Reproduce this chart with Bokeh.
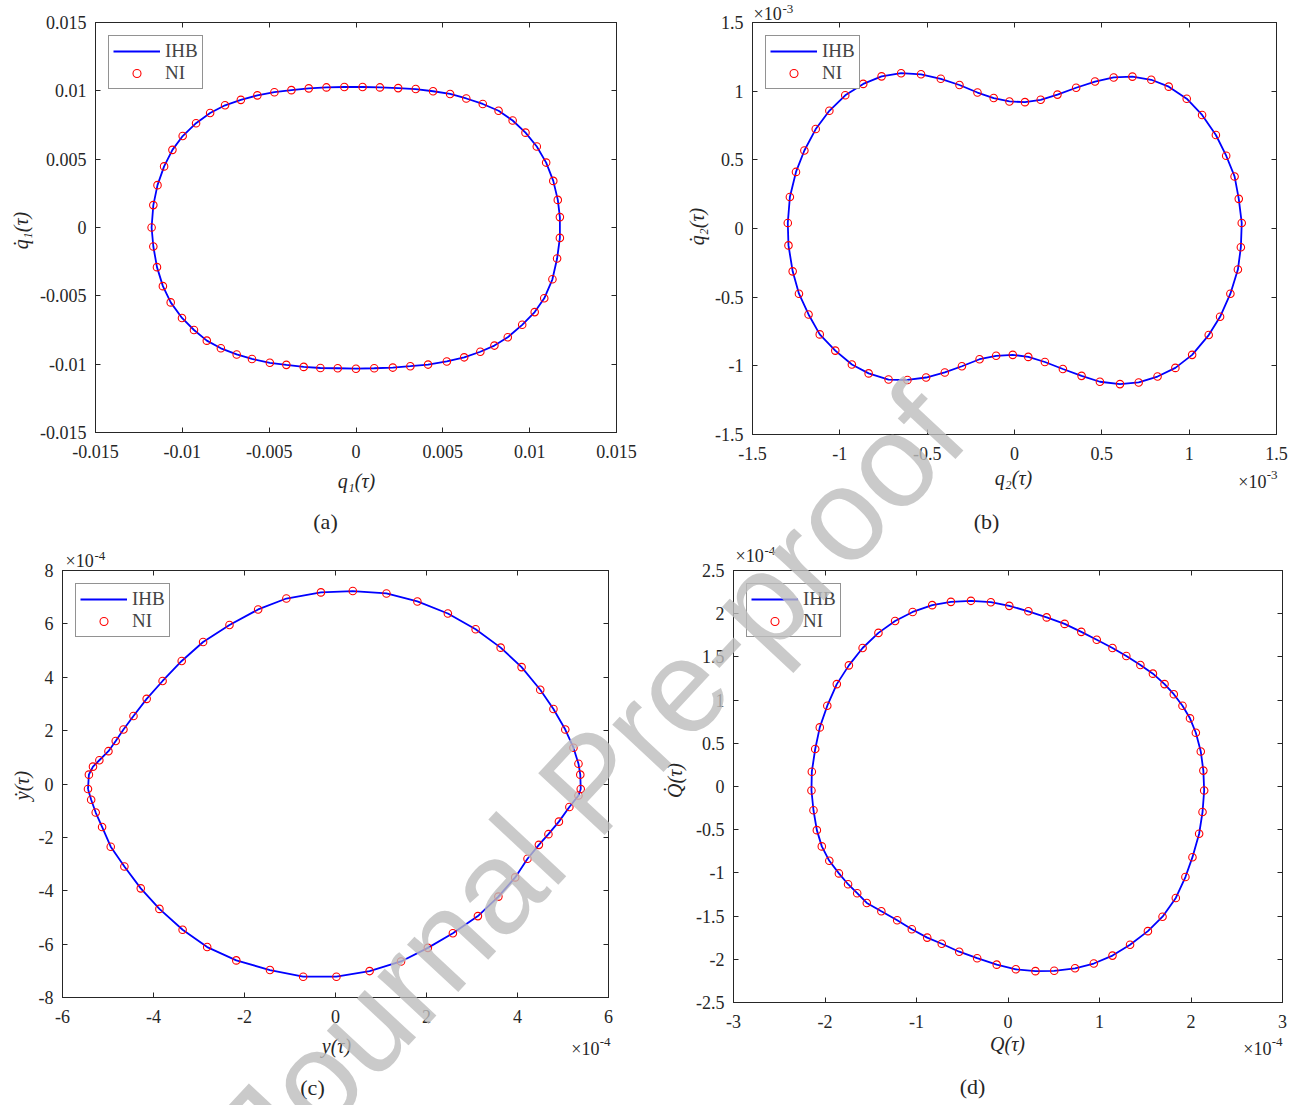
import math
from bokeh.plotting import figure
from bokeh.models import (Range1d, FixedTicker, LinearAxis, Label, Legend, LegendItem,
                          CustomJSTickFormatter)
from bokeh.layouts import row, column
from bokeh.embed import file_html
from bokeh.resources import INLINE

# ---------------- data ----------------
# (a) q1 vs dq1
q1 = [-0.01177, -0.01167, -0.01143, -0.01105, -0.01057, -0.00998, -0.00921, -0.0084, -0.00754,
      -0.00663, -0.00568, -0.0047, -0.00372, -0.00272, -0.0017, -0.00067, 0.00038, 0.00138,
      0.00243, 0.00344, 0.00444, 0.00542, 0.00635, 0.0073, 0.00821, 0.00902, 0.00976, 0.01041,
      0.01095, 0.01136, 0.01162, 0.01174, 0.01174, 0.01158, 0.01131, 0.01084, 0.01029, 0.00957,
      0.00874, 0.00797, 0.00716, 0.00623, 0.00523, 0.00415, 0.00313, 0.00212, 0.00105, 0.0,
      -0.00105, -0.00205, -0.00301, -0.00401, -0.00496, -0.00599, -0.00687, -0.00778, -0.00859,
      -0.00933, -0.01002, -0.01067, -0.01112, -0.01146, -0.01167]
dq1 = [0.0, 0.00164, 0.0031, 0.00447, 0.00568, 0.00669, 0.00763, 0.00838, 0.00894, 0.00934,
       0.00967, 0.0099, 0.01005, 0.01018, 0.01025, 0.01028, 0.01028, 0.01025, 0.0102, 0.01013,
       0.00997, 0.00977, 0.00944, 0.00904, 0.00854, 0.00783, 0.00694, 0.00593, 0.00475, 0.00341,
       0.00202, 0.00076, -0.00076, -0.00227, -0.00379, -0.00518, -0.00619, -0.00712, -0.00803,
       -0.00864, -0.00909, -0.0095, -0.0098, -0.01003, -0.01015, -0.01025, -0.0103, -0.01033,
       -0.0103, -0.01028, -0.0102, -0.01005, -0.0099, -0.00962, -0.00929, -0.00884, -0.00828,
       -0.0075, -0.00662, -0.00548, -0.00429, -0.0029, -0.00139]

# (b) q2 vs dq2, in units of 1e-3
q2_e3 = [-1.298, -1.286, -1.251, -1.203, -1.138, -1.06, -0.969, -0.866, -0.761, -0.649, -0.535,
         -0.422, -0.315, -0.212, -0.119, -0.029, 0.06, 0.15, 0.246, 0.353, 0.461, 0.568, 0.675,
         0.783, 0.883, 0.986, 1.074, 1.153, 1.212, 1.26, 1.284, 1.301, 1.296, 1.279, 1.236, 1.177,
         1.112, 1.017, 0.921, 0.819, 0.711, 0.604, 0.489, 0.384, 0.277, 0.174, 0.079, -0.01,
         -0.105, -0.2, -0.301, -0.399, -0.506, -0.613, -0.721, -0.835, -0.931, -1.026, -1.115,
         -1.179, -1.234, -1.27, -1.294]
dq2_e3 = [0.04, 0.229, 0.412, 0.568, 0.724, 0.857, 0.97, 1.053, 1.108, 1.131, 1.123, 1.09, 1.045,
          0.99, 0.95, 0.925, 0.92, 0.937, 0.975, 1.025, 1.07, 1.1, 1.106, 1.083, 1.033, 0.945,
          0.827, 0.681, 0.53, 0.379, 0.216, 0.04, -0.136, -0.299, -0.475, -0.643, -0.776, -0.92,
          -1.015, -1.078, -1.121, -1.133, -1.116, -1.073, -1.023, -0.972, -0.935, -0.92, -0.927,
          -0.952, -1.003, -1.048, -1.085, -1.103, -1.1, -1.055, -0.99, -0.889, -0.771, -0.626,
          -0.475, -0.312, -0.123]

# (c) y vs dy, in units of 1e-4
y_e4 = [-5.44, -5.42, -5.33, -5.19, -4.99, -4.83, -4.66, -4.44, -4.15, -3.8, -3.38, -2.91, -2.33,
        -1.7, -1.08, -0.32, 0.38, 1.12, 1.8, 2.47, 3.08, 3.63, 4.09, 4.5, 4.79, 5.05, 5.23, 5.34,
        5.38, 5.39, 5.34, 5.14, 4.91, 4.68, 4.47, 4.22, 3.95, 3.58, 3.13, 2.58, 2.03, 1.44, 0.75,
        0.02, -0.71, -1.44, -2.18, -2.82, -3.36, -3.87, -4.28, -4.64, -4.94, -5.13, -5.27, -5.37]
dy_e4 = [-0.19, 0.35, 0.65, 0.89, 1.23, 1.61, 2.04, 2.55, 3.19, 3.86, 4.61, 5.32, 5.96, 6.54,
         6.95, 7.18, 7.23, 7.14, 6.84, 6.39, 5.8, 5.11, 4.38, 3.53, 2.81, 2.04, 1.36, 0.76, 0.35,
         -0.19, -0.43, -0.86, -1.41, -1.88, -2.28, -2.8, -3.5, -4.22, -4.95, -5.59, -6.14, -6.65,
         -7.01, -7.22, -7.22, -6.97, -6.61, -6.11, -5.46, -4.68, -3.91, -3.09, -2.35, -1.61,
         -1.07, -0.59]

# (d) Q vs dQ, in units of 1e-4
Q_e4 = [-2.148, -2.144, -2.107, -2.057, -1.975, -1.871, -1.739, -1.589, -1.416, -1.234, -1.042,
        -0.828, -0.624, -0.405, -0.187, 0.014, 0.223, 0.423, 0.619, 0.801, 0.97, 1.142, 1.293,
        1.447, 1.584, 1.711, 1.812, 1.907, 1.989, 2.053, 2.107, 2.135, 2.144, 2.126, 2.089, 2.016,
        1.939, 1.834, 1.689, 1.529, 1.334, 1.142, 0.938, 0.733, 0.505, 0.3, 0.086, -0.123,
        -0.337, -0.533, -0.724, -0.883, -1.051, -1.211, -1.384, -1.543, -1.648, -1.748, -1.848,
        -1.953, -2.035, -2.089, -2.126]
dQ_e4 = [-0.046, 0.171, 0.434, 0.684, 0.935, 1.185, 1.402, 1.603, 1.778, 1.916, 2.02, 2.099,
         2.137, 2.149, 2.133, 2.091, 2.028, 1.957, 1.882, 1.79, 1.699, 1.603, 1.511, 1.407, 1.306,
         1.185, 1.068, 0.935, 0.789, 0.622, 0.405, 0.184, -0.046, -0.296, -0.547, -0.818, -1.048,
         -1.29, -1.507, -1.674, -1.832, -1.957, -2.049, -2.104, -2.133, -2.137, -2.116, -2.062,
         -1.987, -1.912, -1.82, -1.749, -1.653, -1.548, -1.444, -1.348, -1.235, -1.131, -1.006,
         -0.86, -0.693, -0.505, -0.275]

# tick values
ticks_a = [-0.015, -0.01, -0.005, 0, 0.005, 0.01, 0.015]
ticks_b = [-1.5, -1, -0.5, 0, 0.5, 1, 1.5]
ticks_c_x = [-6, -4, -2, 0, 2, 4, 6]
ticks_c_y = [-8, -6, -4, -2, 0, 2, 4, 6, 8]
ticks_d_x = [-3, -2, -1, 0, 1, 2, 3]
ticks_d_y = [-2.5, -2, -1.5, -1, -0.5, 0, 0.5, 1, 1.5, 2, 2.5]

legend_labels = ["IHB", "NI"]
axis_labels = {
    "a": ("q\u2081(\u03c4)", "q\u0307\u2081(\u03c4)"),
    "b": ("q\u2082(\u03c4)", "q\u0307\u2082(\u03c4)"),
    "c": ("y(\u03c4)", "y\u0307(\u03c4)"),
    "d": ("Q(\u03c4)", "Q\u0307(\u03c4)"),
}
captions = {"a": "(a)", "b": "(b)", "c": "(c)", "d": "(d)"}
exponents = {"b": "-3", "c": "-4", "d": "-4"}
WM_TEXT = "Journal Pre-proof"

# ---------------- styling ----------------
AX = "#262626"
SERIF = "Liberation Serif"
TICK_FS = "18px"
PAGE_W, PAGE_H = 1304, 1105


def fmt():
    return CustomJSTickFormatter(code="return String(parseFloat(tick.toFixed(4)));")


def blank():
    return CustomJSTickFormatter(code="return '';")


def make_panel(fig_box, frame, xr, yr, xt, yt, xs, ys):
    x0, y0, x1, y1 = fig_box
    fl, ft, fr, fb = frame
    p = figure(frame_width=fr - fl, frame_height=fb - ft,
               min_border_left=fl - x0, min_border_right=x1 - fr,
               min_border_top=ft - y0, min_border_bottom=y1 - fb,
               x_range=Range1d(*xr), y_range=Range1d(*yr),
               output_backend="svg", toolbar_location=None,
               x_axis_location=None, y_axis_location=None)
    p.grid.visible = False
    p.outline_line_color = AX
    p.outline_line_width = 1
    p.background_fill_color = "white"
    p.border_fill_color = "white"

    for side, ticks in (("below", xt), ("left", yt), ("above", xt), ("right", yt)):
        labelled = side in ("below", "left")
        ax = LinearAxis(ticker=FixedTicker(ticks=ticks),
                        formatter=fmt() if labelled else blank(),
                        major_tick_in=5, major_tick_out=0,
                        minor_tick_line_color=None,
                        axis_line_color=AX, major_tick_line_color=AX,
                        major_label_text_font=SERIF,
                        major_label_text_color=AX,
                        major_label_text_font_size=TICK_FS if labelled else "1px",
                        major_label_standoff=(9 if side == "left" else 12) if labelled else 0)
        p.add_layout(ax, side)

    xx = list(xs) + [xs[0]]
    yy = list(ys) + [ys[0]]
    ln = p.line(xx, yy, line_color="#0000ff", line_width=1.8)
    sc = p.scatter(xs, ys, marker="circle", size=7.5, fill_color=None,
                   line_color="#ff0000", line_width=1.1)
    leg = Legend(items=[LegendItem(label=legend_labels[0], renderers=[ln]),
                        LegendItem(label=legend_labels[1], renderers=[sc])],
                 location="top_left", margin=13, padding=4, spacing=0,
                 glyph_width=47, glyph_height=20, label_standoff=5, label_height=20,
                 label_text_font=SERIF, label_text_font_size="19px",
                 border_line_color=AX, border_line_width=1,
                 background_fill_color="white", background_fill_alpha=1)
    p.add_layout(leg, "center")
    return p


pA = make_panel((0, 0, 650, 545), (95, 22, 616, 432), (-0.015, 0.015), (-0.015, 0.015),
                ticks_a, ticks_a, q1, dq1)
pB = make_panel((650, 0, 1304, 545), (752, 20, 1276, 432), (-1.5, 1.5), (-1.5, 1.5),
                ticks_b, ticks_b, q2_e3, dq2_e3)
pC = make_panel((0, 545, 650, 1105), (62, 570, 608, 997), (-6, 6), (-8, 8),
                ticks_c_x, ticks_c_y, y_e4, dy_e4)
pD = make_panel((650, 545, 1304, 1105), (733, 565, 1282, 997), (-3, 3), (-2.5, 2.5),
                ticks_d_x, ticks_d_y, Q_e4, dQ_e4)

# ---------------- transparent overlay for the texts outside the axes ----------------
ov = figure(width=PAGE_W, height=PAGE_H, x_range=Range1d(0, PAGE_W), y_range=Range1d(0, PAGE_H),
            min_border=0, min_border_left=0, min_border_right=0, min_border_top=0,
            min_border_bottom=0, toolbar_location=None, output_backend="svg",
            x_axis_location=None, y_axis_location=None,
            background_fill_color=None, border_fill_color=None, outline_line_color=None,
            styles={"position": "absolute", "left": "0px", "top": "0px",
                    "pointer-events": "none", "z-index": "10"})
ov.grid.visible = False


def t(px, py, text, size, align="center", baseline="middle", angle=0.0, style="normal",
      font=SERIF, color=AX, alpha=1.0):
    ov.add_layout(Label(x=px, y=PAGE_H - py, text=text, text_font=font, text_font_size=size,
                        text_font_style=style, text_color=color, text_alpha=alpha,
                        text_align=align, text_baseline=baseline, angle=angle))


# page positions of the axis labels, captions and exponent markers
lab_pos = {
    "a": ((356, 480), (20, 230), (325, 521)),
    "b": ((1013, 477), (696, 226), (986, 521)),
    "c": ((336, 1045), (21, 785), (312, 1087)),
    "d": ((1007, 1043), (674, 780), (972, 1086)),
}
for k, (xl, yl, cp) in lab_pos.items():
    t(xl[0], xl[1], axis_labels[k][0], "20px", style="italic")
    t(yl[0], yl[1], axis_labels[k][1], "20px", style="italic", angle=math.pi / 2)
    t(cp[0], cp[1], captions[k], "22px")

exp_pos = {  # (top-left x, y of "x10"), (bottom-right x, y of "x10")
    "b": ((753, 13), (1277, 481)),
    "c": ((65, 560), (610, 1048)),
    "d": ((735, 555), (1282, 1048)),
}
for k, ((tx, ty), (bx, by)) in exp_pos.items():
    t(tx, ty, "\u00d710", "18px", align="left")
    t(tx + 29, ty - 5, exponents[k], "13px", align="left")
    t(bx, by - 7, exponents[k], "13px", align="right")
    t(bx - 11, by, "\u00d710", "18px", align="right")

# watermark
t(591, 782, WM_TEXT, "132px", baseline="alphabetic", angle=math.radians(47),
  font="Liberation Sans", color="#bdbdbd", alpha=0.8)

layout = column(row(pA, pB, spacing=0), row(pC, pD, spacing=0), ov, spacing=0)
open("out.html", "w").write(file_html(layout, INLINE))
